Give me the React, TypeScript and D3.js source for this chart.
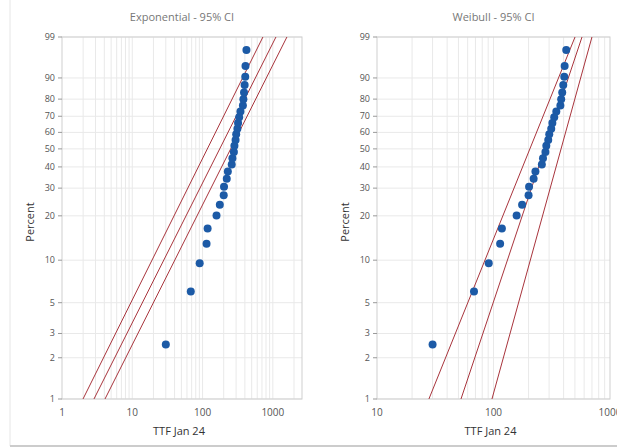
import * as d3 from "d3";

// failure times, sorted (same sample in both panels)
const ttf = [30, 68, 91, 114, 118, 158, 176, 200, 202, 221, 229, 260, 266, 279, 284, 295, 301, 313, 320, 332, 346, 375, 381, 389, 397, 405, 408, 421];
// plotting positions (median ranks), percent
const percent = [2.5, 6.0, 9.5, 13.0, 16.5, 20.1, 23.6, 27.1, 30.6, 34.2, 37.7, 41.2, 44.7, 48.2, 51.8, 55.3, 58.8, 62.3, 65.8, 69.4, 72.9, 76.4, 79.9, 83.5, 87.0, 90.5, 94.0, 97.5];

const yTicks = [1, 2, 3, 5, 10, 20, 30, 40, 50, 60, 70, 80, 90, 99];
const expXTicks = [1, 10, 100, 1000];
const weiXTicks = [10, 100, 1000];

// fitted line and bounds: time at 1% and at 99%
const expLines = [
  { lo: 1.99, hi: 723 },
  { lo: 2.85, hi: 1107 },
  { lo: 4.09, hi: 1586 },
];
const weiLines = [
  { lo: 27.9, hi: 501 },
  { lo: 52.6, hi: 575 },
  { lo: 97, hi: 700 },
];

const titles = ["Exponential - 95% CI", "Weibull - 95% CI"];
const xTitle = "TTF Jan 24";
const yTitle = "Percent";

const FONT = "'Open Sans', 'DejaVu Sans', sans-serif";
const weib = (p: number) => Math.log(-Math.log(1 - p / 100));

const top = 37;
const bottom = 399;

const panels = [
  { title: titles[0], domain: [1, 2600], range: [62, 302], ticks: expXTicks, lines: expLines, id: "a" },
  { title: titles[1], domain: [10, 1000], range: [377, 610], ticks: weiXTicks, lines: weiLines, id: "b" },
];

function Panel({ p }: { p: (typeof panels)[number] }) {
  const x = d3.scaleLog().domain(p.domain).range(p.range);
  const y = d3.scaleLinear().domain([weib(1), weib(99)]).range([bottom, top]);
  const [x0, x1] = p.range;
  const cx = (x0 + x1) / 2;

  const minor: number[] = [];
  const k0 = Math.floor(Math.log10(p.domain[0]));
  const k1 = Math.ceil(Math.log10(p.domain[1]));
  for (let k = k0; k <= k1; k++) {
    for (let m = 1; m < 10; m++) {
      const v = m * Math.pow(10, k);
      if (v > p.domain[0] && v < p.domain[1]) minor.push(v);
    }
  }

  return (
    <g>
      <defs>
        <clipPath id={"clip" + p.id}>
          <rect x={x0} y={top} width={x1 - x0} height={bottom - top} />
        </clipPath>
      </defs>
      <text x={cx} y={21} textAnchor="middle" fontSize={11} fill="#777" fontFamily={FONT}>
        {p.title}
      </text>
      {minor.map((v) => (
        <line key={"v" + v} x1={x(v)} x2={x(v)} y1={top} y2={bottom} stroke="#e9e9e9" strokeWidth={1} />
      ))}
      {yTicks.map((t) => (
        <line key={"h" + t} x1={x0} x2={x1} y1={y(weib(t))} y2={y(weib(t))} stroke="#e9e9e9" strokeWidth={1} />
      ))}
      <rect x={x0} y={top} width={x1 - x0} height={bottom - top} fill="none" stroke="#cfcfcf" />
      <g clipPath={`url(#clip${p.id})`}>
        {p.lines.map((l, i) => (
          <line
            key={i}
            x1={x(l.lo)}
            y1={y(weib(1))}
            x2={x(l.hi)}
            y2={y(weib(99))}
            stroke="#a8343c"
            strokeWidth={1}
          />
        ))}
      </g>
      {ttf.map((v, i) => (
        <circle key={i} cx={x(v)} cy={y(weib(percent[i]))} r={4} fill="#1c5aa6" />
      ))}
      {yTicks.map((t) => (
        <g key={"yt" + t} transform={`translate(${x0},${y(weib(t))})`}>
          <line x1={-4} x2={0} stroke="#999" />
          <text x={-7} dy="0.33em" textAnchor="end" fontSize={9} fill="#555" fontFamily={FONT}>
            {t}
          </text>
        </g>
      ))}
      {p.ticks.map((t) => (
        <text key={"xt" + t} x={x(t)} y={bottom + 17} textAnchor="middle" fontSize={10} fill="#555" fontFamily={FONT}>
          {t}
        </text>
      ))}
      <text x={cx - 3} y={435} textAnchor="middle" fontSize={11} fill="#333" fontFamily={FONT}>
        {xTitle}
      </text>
      <text
        transform={`translate(${x0 - 28},${(top + bottom) / 2 + 4}) rotate(-90)`}
        textAnchor="middle"
        fontSize={11}
        fill="#333"
        fontFamily={FONT}
      >
        {yTitle}
      </text>
    </g>
  );
}

export default function App() {
  return (
    <svg
      width={617}
      height={448}
      style={{ position: "absolute", left: 0, top: 0, background: "#fff" }}
    >
      <line x1={10} x2={10} y1={0} y2={446} stroke="#e6e6e6" />
      <line x1={10} x2={617} y1={446} y2={446} stroke="#cccccc" strokeWidth={2} />
      {panels.map((p) => (
        <Panel key={p.id} p={p} />
      ))}
    </svg>
  );
}
